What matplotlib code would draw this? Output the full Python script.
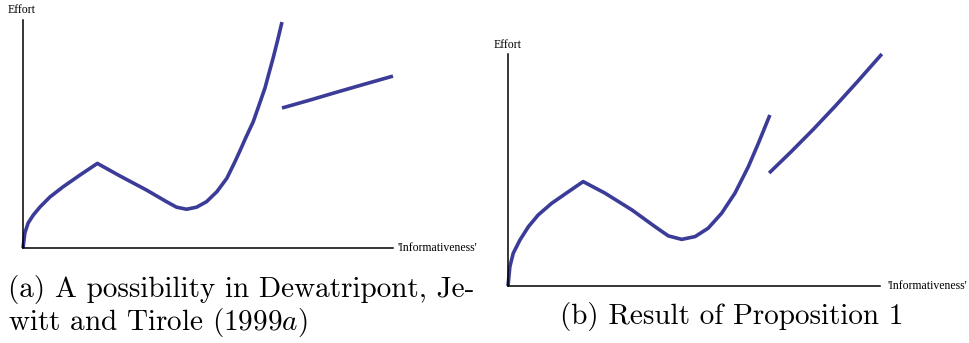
import matplotlib
matplotlib.use('Agg')
import matplotlib.pyplot as plt

plt.rcParams['mathtext.fontset'] = 'cm'

# effort against informativeness (axis units 0..10)
ax_x1 = [0, 0.05, 0.14, 0.28, 0.46, 0.73, 1.08, 1.54, 2.01, 2.62, 3.34,
         3.88, 4.15, 4.42, 4.69, 4.96, 5.24, 5.51, 5.73, 5.86, 6.03, 6.22,
         6.38, 6.54, 6.65, 6.76, 6.88, 7.00]
ax_y1 = [0, 0.66, 1.10, 1.45, 1.80, 2.24, 2.68, 3.20, 3.71, 3.16, 2.54,
         2.03, 1.79, 1.70, 1.79, 2.03, 2.47, 3.06, 3.79, 4.25, 4.87, 5.53,
         6.27, 7.02, 7.68, 8.33, 9.10, 9.91]
ax_x2 = [7.00, 7.76, 8.49, 9.24, 10.0]
ax_y2 = [6.14, 6.49, 6.84, 7.19, 7.54]

bx_x1 = [0, 0.05, 0.14, 0.32, 0.55, 0.81, 1.17, 1.62, 2.02, 2.61, 3.33,
         3.95, 4.31, 4.67, 5.03, 5.38, 5.74, 6.10, 6.46, 6.73, 7.04]
bx_y1 = [0, 0.83, 1.41, 1.98, 2.56, 3.06, 3.56, 4.06, 4.50, 4.00, 3.28,
         2.56, 2.16, 2.01, 2.13, 2.49, 3.13, 4.00, 5.14, 6.15, 7.37]
bx_x2 = [7.02, 7.60, 8.20, 8.80, 9.40, 10.05]
bx_y2 = [4.87, 5.77, 6.74, 7.76, 8.82, 10.0]

caption_a = ['(a) A possibility in Dewatripont, Je-',
             'witt and Tirole (1999$a$)']
caption_b = '(b) Result of Proposition 1'

curve = '#3b3b98'
W, H = 969, 343
fig = plt.figure(figsize=(W / 100, H / 100), dpi=100)


def panel(left, right, top, bottom, segs, effort_xy, info_x):
    ax = fig.add_axes([left / W, 1 - bottom / H, (right - left) / W, (bottom - top) / H])
    for xs, ys in segs:
        ax.plot(xs, ys, color=curve, lw=2.6, solid_capstyle='butt',
                solid_joinstyle='round', clip_on=False)
    ax.set_xlim(0, 10)
    ax.set_ylim(0, 10)
    for s in ['top', 'right']:
        ax.spines[s].set_visible(False)
    for s in ['left', 'bottom']:
        ax.spines[s].set_linewidth(1.1)
    ax.set_xticks([])
    ax.set_yticks([])
    fig.text(effort_xy[0] / W, 1 - effort_xy[1] / H, 'Effort',
             family='Liberation Serif', fontsize=8.5, va='baseline')
    fig.text(info_x / W, 1 - bottom / H, "'Informativeness'",
             family='Liberation Serif', fontsize=8.5, va='center')
    return ax


panel(23, 393, 20, 248, [(ax_x1, ax_y1), (ax_x2, ax_y2)], (8, 13), 398)
panel(508, 880, 54, 286, [(bx_x1, bx_y1), (bx_x2, bx_y2)], (494, 48), 888)

fig.text(8 / W, 1 - 297 / H, caption_a[0], family='cmr10', fontsize=21, va='baseline')
fig.text(8 / W, 1 - 330 / H, caption_a[1], family='cmr10', fontsize=21, va='baseline')
fig.text(732 / W, 1 - 324 / H, caption_b, family='cmr10', fontsize=21,
         va='baseline', ha='center')

fig.savefig('out.png', dpi=100)
